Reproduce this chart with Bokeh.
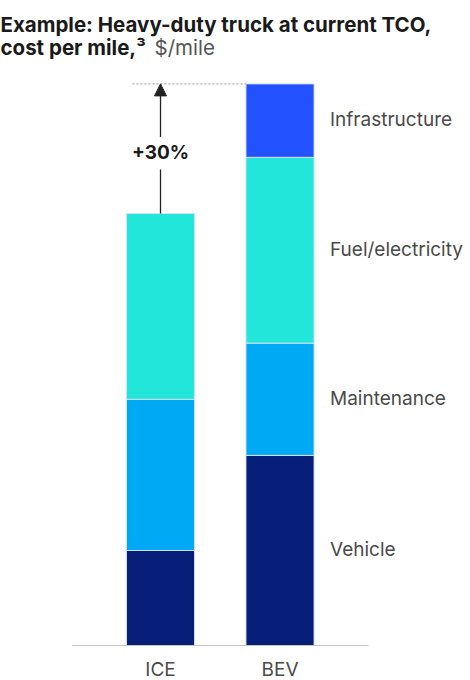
from bokeh.plotting import figure
from bokeh.models import Range1d, Label, Arrow, NormalHead, ColumnDataSource
from bokeh.embed import file_html
from bokeh.resources import INLINE
from bokeh.core.properties import value

# Cost per mile of a heavy-duty truck, $/mile, split by cost component
categories = ["ICE", "BEV"]
components = ["Vehicle", "Maintenance", "Fuel/electricity", "Infrastructure"]
vehicle = [0.22, 0.44]
maintenance = [0.35, 0.26]
fuel = [0.43, 0.43]
infrastructure = [0.00, 0.17]
colors = ["#061E78", "#00A9F4", "#21E6D9", "#2251FF"]
uplift_label = "+30%"

FONT = "Inter"
series = [vehicle, maintenance, fuel, infrastructure]
xpos = {c: i for i, c in enumerate(categories)}

p = figure(width=470, height=680,
           x_range=Range1d(-1.339, 2.594), y_range=Range1d(-0.081, 1.493),
           output_backend="svg", toolbar_location=None, min_border=0,
           x_axis_location=None, y_axis_location=None)
p.grid.visible = False
p.outline_line_color = None
p.background_fill_color = "white"

# stacked segments, built cumulatively
xs, bottoms, tops, fills = [], [], [], []
totals = [0.0] * len(categories)
for vals, col in zip(series, colors):
    for i, v in enumerate(vals):
        if v > 0:
            xs.append(i)
            bottoms.append(totals[i])
            tops.append(totals[i] + v)
            fills.append(col)
        totals[i] += v
src = ColumnDataSource(dict(x=xs, bottom=bottoms, top=tops, color=fills))
p.vbar(x="x", bottom="bottom", top="top", width=0.57, fill_color="color",
       line_color="#d6e2f2", line_width=1, source=src)

# baseline
p.segment(x0=[-0.74], y0=[0], x1=[len(categories) - 1 + 0.74], y1=[0],
          line_color="#c4c4c4", line_width=1.2)

# category labels
p.text(x=list(range(len(categories))), y=[0] * len(categories), text=categories,
       text_font=value(FONT), text_font_size="19px", text_color="#4a4a4a",
       text_align="center", text_baseline="middle", y_offset=24)

# component labels beside the BEV bar, at segment centres
bev = xpos["BEV"]
cum = 0.0
lab_y = []
for vals in series:
    lab_y.append(cum + vals[bev] / 2)
    cum += vals[bev]
p.text(x=[bev] * len(components), y=lab_y, text=components,
       text_font=value(FONT), text_font_size="19px", text_color="#4a4a4a",
       text_align="left", text_baseline="middle", x_offset=50, y_offset=-1)

# uplift annotation between totals
ice = xpos["ICE"]
ice_total, bev_total = totals[ice], totals[bev]
diff = bev_total - ice_total
p.segment(x0=[ice - 0.235], y0=[bev_total], x1=[bev - 0.285], y1=[bev_total],
          line_color="#9a9a9a", line_width=1, line_dash="2 2")
p.segment(x0=[ice], y0=[ice_total], x1=[ice], y1=[ice_total + 0.34 * diff],
          line_color="#222222", line_width=1.3)
p.add_layout(Arrow(x_start=ice, y_start=ice_total + 0.59 * diff, x_end=ice, y_end=bev_total,
                   line_color="#222222", line_width=1.3,
                   end=NormalHead(size=12, fill_color="#222222", line_color="#222222")))
p.text(x=[ice], y=[ice_total + 0.47 * diff], text=[uplift_label],
       text_font=value(FONT), text_font_size="19px", text_font_style="bold",
       text_color="#1a1a1a", text_align="center", text_baseline="middle")

# heading
p.add_layout(Label(x=0, y=680 - 24, x_units="screen", y_units="screen",
                   text="Example: Heavy-duty truck at current TCO,",
                   text_font=FONT, text_font_size="20.5px", text_font_style="bold",
                   text_color="#1a1a1a", text_baseline="alphabetic"))
p.add_layout(Label(x=0, y=680 - 47, x_units="screen", y_units="screen",
                   text="cost per mile,\u00b3",
                   text_font=FONT, text_font_size="20.5px", text_font_style="bold",
                   text_color="#1a1a1a", text_baseline="alphabetic"))
p.add_layout(Label(x=154, y=680 - 47, x_units="screen", y_units="screen",
                   text="$/mile",
                   text_font=FONT, text_font_size="20.5px",
                   text_color="#555555", text_baseline="alphabetic"))

open("out.html", "w").write(file_html(p, INLINE))
